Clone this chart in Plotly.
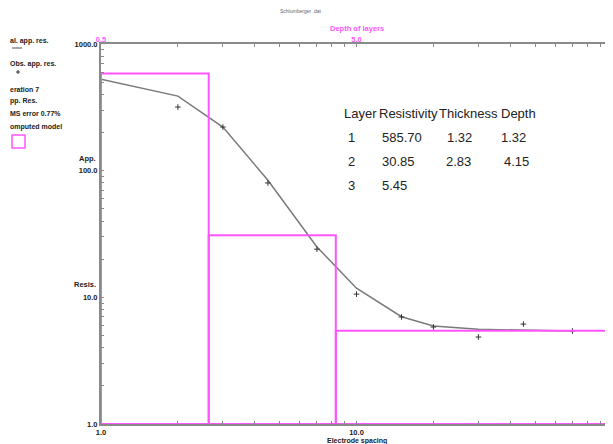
import math
import plotly.graph_objects as go

# ---------------- data ----------------
calc_spacing = [1, 2, 3, 4.5, 7, 10, 15, 20, 30, 45, 70]
calc_res = [528, 388, 221, 84, 25, 11.8, 7.03, 5.94, 5.59, 5.52, 5.42]

obs_spacing = [2, 3, 4.5, 7, 10, 15, 20, 30, 45, 70]
obs_res = [318, 221, 80, 24.0, 10.6, 7.0, 5.83, 4.86, 6.15, 5.42]

layer_ids = ["1", "2", "3"]
layer_res = [585.70, 30.85, 5.45]
layer_thick = [1.32, 2.83]
layer_depth = [1.32, 4.15]

x_ticks = [1, 2, 3, 4, 5, 6, 7, 8, 9, 10, 20, 30, 40, 50, 60, 70, 80, 90, 100]
x_ticktext = ["1.0"] + [""] * 8 + ["10.0"] + [""] * 8 + ["100.0"]
y_ticks = [1, 2, 3, 4, 5, 6, 7, 8, 9, 10, 20, 30, 40, 50, 60, 70, 80, 90,
           100, 200, 300, 400, 500, 600, 700, 800, 900, 1000]
y_ticktext = ["1.0"] + [""] * 8 + ["10.0"] + [""] * 8 + ["100.0"] + [""] * 8 + ["1000.0"]
depth_ticks = [0.5, 5, 50]
depth_ticktext = ["0.5", "5.0", "50.0"]

# ---------------- layout geometry ----------------
# page has an 8px body margin, so the figure is shifted by (8, 8) on screen
OFF = 8
W_FIG, H_FIG = 613 - OFF, 444 - OFF
L, R, T, B = 101, 612, 44, 424          # plot area in screen pixels
PW, PH = R - L, B - T


def px(x):
    return (x - L) / PW


def py(y):
    return (B - y) / PH


GRAY = "#8a8a8a"
MAG = "#ff55ff"
SANS = "Liberation Sans, Arial, sans-serif"

# model boxes (depth axis)
d_min, d_max = 0.5, 50
tops = [d_min] + layer_depth
bots = layer_depth + [d_max]
mx, my = [], []
for t, b, r in zip(tops, bots, layer_res):
    mx += [t, t, b, b, None]
    my += [1, r, r, 1, None]
mx += [d_min, d_max]
my += [1, 1]

fig = go.Figure()
fig.add_trace(go.Scatter(x=mx, y=my, xaxis="x2", yaxis="y", mode="lines",
                         line=dict(color=MAG, width=2), hoverinfo="skip",
                         showlegend=False))
fig.add_trace(go.Scatter(x=calc_spacing, y=calc_res, mode="lines",
                         line=dict(color="#7a7a7a", width=1.5),
                         showlegend=False))
fig.add_trace(go.Scatter(x=obs_spacing, y=obs_res, mode="markers",
                         marker=dict(symbol="cross-thin", size=4,
                                     line=dict(color="#333333", width=1)),
                         showlegend=False))

tickfont = dict(family=SANS, size=7.5, color="#222222", weight="bold")

fig.update_layout(
    width=W_FIG, height=H_FIG,
    margin=dict(l=L - OFF, r=W_FIG - (R - OFF), t=T - OFF,
                b=H_FIG - (B - OFF), pad=0),
    paper_bgcolor="white", plot_bgcolor="white",
    xaxis=dict(type="log", range=[0, 2], tickvals=x_ticks, ticktext=x_ticktext,
               ticks="inside", ticklen=3, tickcolor=GRAY, tickwidth=1,
               showline=True, linecolor=GRAY, linewidth=2, mirror="ticks",
               showgrid=False, zeroline=False, tickfont=tickfont,
               automargin=False),
    xaxis2=dict(type="log", range=[math.log10(d_min), math.log10(d_max)],
                overlaying="x", side="top", tickvals=depth_ticks,
                ticktext=depth_ticktext, ticks="", showline=False,
                showgrid=False, zeroline=False, automargin=False,
                tickfont=dict(family=SANS, size=7.5, color=MAG, weight="bold")),
    yaxis=dict(type="log", range=[0, 3], tickvals=y_ticks, ticktext=y_ticktext,
               ticks="inside", ticklen=3, tickcolor=GRAY, tickwidth=1,
               showline=True, linecolor=GRAY, linewidth=2, mirror="ticks",
               showgrid=False, zeroline=False, tickfont=tickfont,
               automargin=False),
)

ann = []


def text(x, y, s, size=7, color="#222222", anchor="left", family=SANS,
         weight="bold"):
    ann.append(dict(x=px(x), y=py(y), xref="paper", yref="paper", text=s,
                    showarrow=False, xanchor=anchor, yanchor="middle",
                    font=dict(family=family, size=size, color=color,
                              weight=weight)))


# axis words
text(357, 29, "Depth of layers", size=7.5, color=MAG, anchor="center")
text(357, 441, "Electrode spacing", size=7, anchor="center")
text(98, 158, "App.", size=7.5, anchor="right")
text(98, 284, "Resis.", size=7.5, anchor="right")
text(300, 11, "Schlumberger .dat", size=5, color="#666666", anchor="center",
     weight="normal")

# left legend block
text(8, 41, "al. app. res.")
text(8, 64, "Obs. app. res.")
text(8, 89, "eration 7")
text(8, 101, "pp. Res.")
text(8, 113, "MS error 0.77%")
text(8, 127, "omputed model")

# table of layers
tf = 13
cols = [342, 377, 437, 499]
text(cols[0], 113, "Layer", size=tf, weight="normal")
text(cols[1], 113, "Resistivity", size=tf, weight="normal")
text(cols[2], 113, "Thickness", size=tf, weight="normal")
text(cols[3], 113, "Depth", size=tf, weight="normal")
row_y = [137, 161, 185]
for i, lid in enumerate(layer_ids):
    text(346, row_y[i], lid, size=tf, weight="normal")
    text(380, row_y[i], f"{layer_res[i]:.2f}", size=tf, weight="normal")
for i, th in enumerate(layer_thick):
    text(445 - (1 if i else 0), row_y[i], f"{th:.2f}", size=tf, weight="normal")
    text(499 + (3 if i else 0), row_y[i], f"{layer_depth[i]:.2f}", size=tf,
         weight="normal")

fig.update_layout(annotations=ann)

# legend glyphs on the left
fig.add_shape(type="line", xref="paper", yref="paper",
              x0=px(12), x1=px(22), y0=py(48), y1=py(48),
              line=dict(color="#555555", width=1))
fig.add_shape(type="line", xref="paper", yref="paper",
              x0=px(16), x1=px(20), y0=py(72), y1=py(72),
              line=dict(color="#333333", width=1))
fig.add_shape(type="line", xref="paper", yref="paper",
              x0=px(18), x1=px(18), y0=py(70), y1=py(74),
              line=dict(color="#333333", width=1))
fig.add_shape(type="rect", xref="paper", yref="paper",
              x0=px(12), x1=px(25), y0=py(135), y1=py(148),
              line=dict(color=MAG, width=1.5))

fig.write_html("out.html")
